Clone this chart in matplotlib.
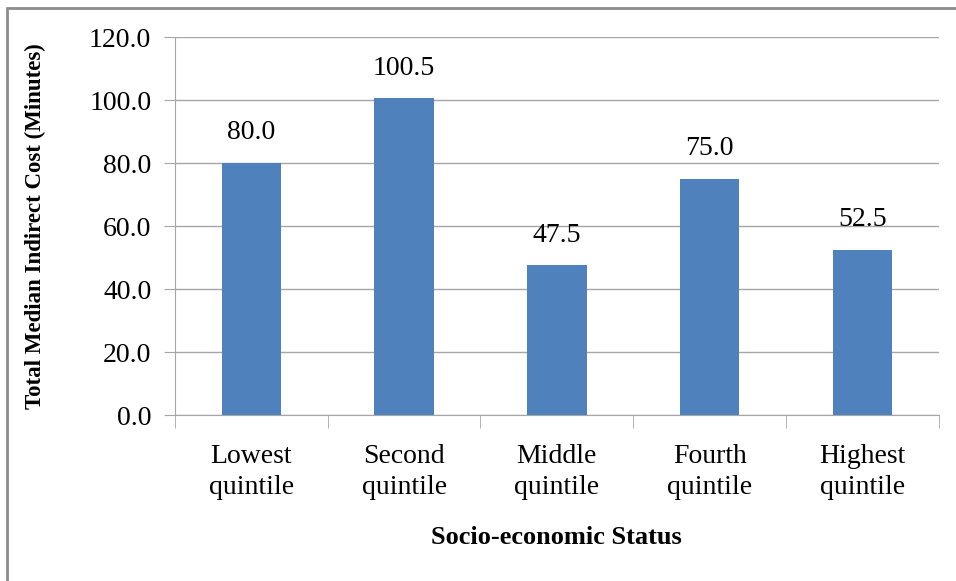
import matplotlib.pyplot as plt
import numpy as np
from matplotlib.patches import Rectangle

# chart data
categories = ['Lowest\nquintile', 'Second\nquintile', 'Middle\nquintile',
              'Fourth\nquintile', 'Highest\nquintile']
median_cost = [80.0, 100.5, 47.5, 75.0, 52.5]
yticks = [0, 20, 40, 60, 80, 100, 120]

plt.rcParams['font.family'] = ['Liberation Serif', 'DejaVu Serif']

fig = plt.figure(figsize=(9.56, 5.81), dpi=100)
ax = fig.add_axes([0.183, 0.2857, 0.799, 0.6506])

# outer border of the chart area
fig.patches.append(Rectangle((7 / 956, -0.05), 1.05, (581 - 8) / 581 + 0.05,
                             transform=fig.transFigure, fill=False,
                             edgecolor='#8c8c8c', linewidth=2))

x = np.arange(len(categories))
bars = ax.bar(x, median_cost, width=0.39, color='#4f81bd', zorder=3)

for b, v in zip(bars, median_cost):
    ax.annotate('%.1f' % v, (b.get_x() + b.get_width() / 2, v),
                xytext=(0, 17), textcoords='offset points',
                ha='center', va='baseline', fontsize=20)

ax.set_xlim(-0.5, len(categories) - 0.5)
ax.set_ylim(0, 120)
ax.set_yticks(yticks)
ax.set_yticklabels(['%.1f' % t for t in yticks], fontsize=20)
ax.yaxis.grid(True, color='#a6a6a6', linewidth=1)
ax.set_axisbelow(True)

ax.set_xticks(x)
ax.set_xticklabels(categories, fontsize=20, linespacing=1.3)
ax.set_xticks(np.arange(len(categories) + 1) - 0.5, minor=True)
ax.tick_params(axis='x', which='major', length=0, pad=21)
ax.tick_params(axis='x', which='minor', length=9, color='#a6a6a6')
ax.tick_params(axis='y', length=8, color='#a6a6a6', pad=9)

for s in ['top', 'right']:
    ax.spines[s].set_visible(False)
for s in ['left', 'bottom']:
    ax.spines[s].set_color('#a6a6a6')

ax.set_ylabel('Total Median Indirect Cost (Minutes)', fontsize=16.5,
              fontweight='bold')
ax.yaxis.set_label_coords(-(175 - 35) / 764, 0.5)
ax.set_xlabel('Socio-economic Status', fontsize=19, fontweight='bold')
ax.xaxis.set_label_coords(0.5, -(537 - 415) / 378)
ax.xaxis.label.set_va('center')
ax.yaxis.label.set_va('center')

fig.savefig('out.png', dpi=100)
